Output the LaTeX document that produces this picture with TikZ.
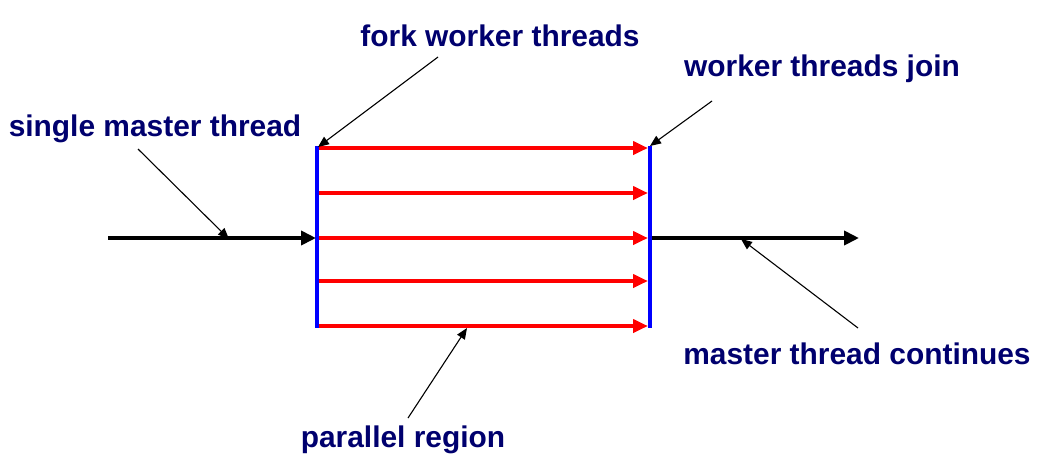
\documentclass[tikz,border=0pt]{standalone}
\usepackage{fontspec}
\setmainfont{Liberation Sans}
\usetikzlibrary{arrows.meta}
\definecolor{navy}{RGB}{0,0,110}
\tikzset{
  lbl/.style={font=\bfseries\fontsize{29.9}{32}\selectfont, text=navy, inner sep=0pt, anchor=base},
  thread/.style={red, line width=4pt, -{Triangle[length=15pt,width=13pt]}},
  master/.style={black, line width=4pt, -{Triangle[length=15pt,width=14pt]}},
  bar/.style={blue, line width=4pt},
  pointer/.style={black, line width=1.1pt, -{Triangle[length=11pt,width=9pt]}}
}
\begin{document}
\begin{tikzpicture}[x=1pt,y=-1pt]
\useasboundingbox (0,0) rectangle (1048,475);
% bars
\coordinate (f1) at (317,146);
\coordinate (f2) at (317,328);
\coordinate (j1) at (650,146);
\coordinate (j2) at (650,328);
\draw[bar] (f1) -- (f2);
\draw[bar] (j1) -- (j2);
% threads
\foreach \y [count=\i] in {148,193,238,281,326} {
  \coordinate (s\i) at (319,\y);
  \coordinate (e\i) at (648,\y);
  \draw[thread] (s\i) -- (e\i);
}
% master thread
\coordinate (m0) at (108,238);
\coordinate (m1) at (316,238);
\coordinate (m2) at (652,238);
\coordinate (m3) at (859,238);
\draw[master] (m0) -- (m1);
\draw[master] (m2) -- (m3);
% labels
\node[lbl] (single) at (155,136) {single master thread};
\node[lbl] (fork) at (500,46) {fork worker threads};
\node[lbl] (join) at (822,76) {worker threads join};
\node[lbl] (cont) at (857,364) {master thread continues};
\node[lbl] (par) at (403,447) {parallel region};
% pointers
\coordinate (ps) at (138,149);
\coordinate (pst) at (229,239);
\coordinate (pf) at (438,57);
\coordinate (pft) at (318,147);
\coordinate (pj) at (712,101);
\coordinate (pjt) at (650,146);
\coordinate (pc) at (858,328);
\coordinate (pct) at (741,239);
\coordinate (pp) at (408,418);
\coordinate (ppt) at (467,328);
\draw[pointer] (ps) -- (pst);
\draw[pointer] (pf) -- (pft);
\draw[pointer] (pj) -- (pjt);
\draw[pointer] (pc) -- (pct);
\draw[pointer] (pp) -- (ppt);
\end{tikzpicture}
\end{document}
